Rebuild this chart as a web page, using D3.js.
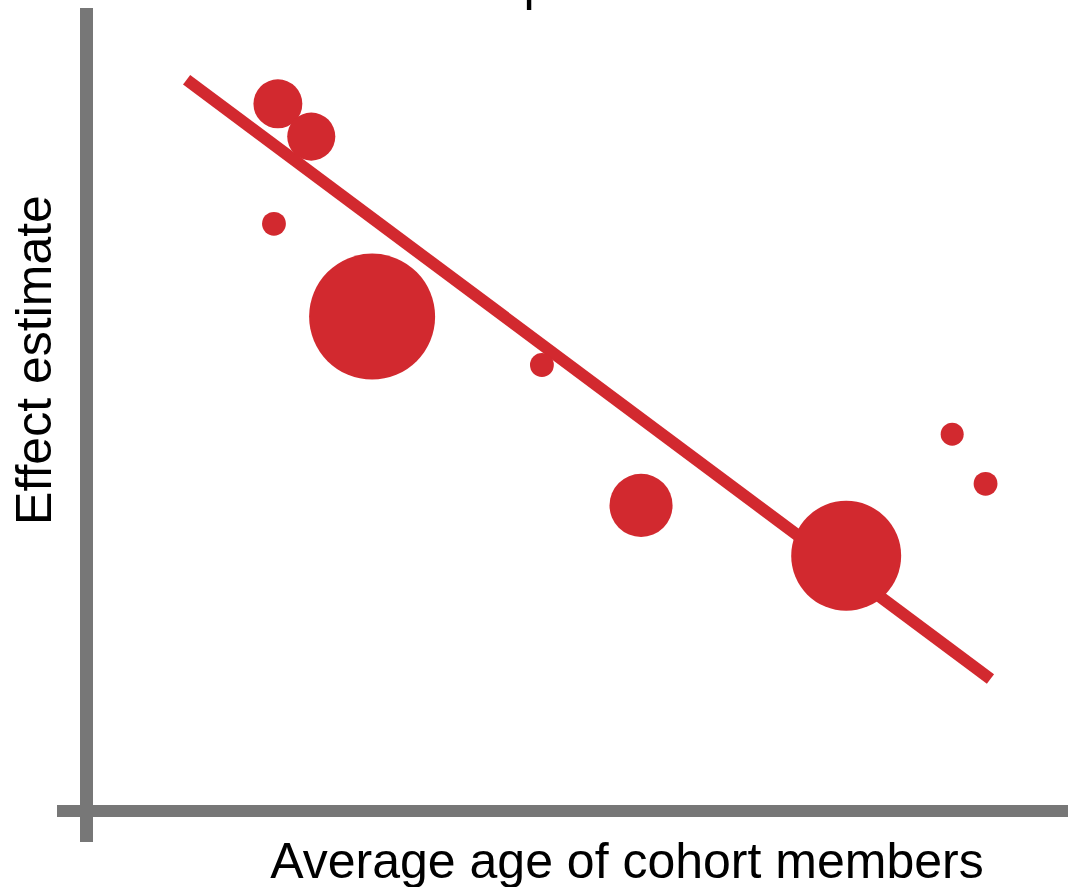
<!DOCTYPE html>
<html>
<head>
<meta charset="utf-8">
<script src="https://cdn.jsdelivr.net/npm/d3@7"></script>
<style>
  html, body { margin: 0; padding: 0; background: #fff; }
  svg { display: block; }
  text { font-family: "Liberation Sans", Arial, sans-serif; fill: #000; }
</style>
</head>
<body>
<svg id="chart" width="1068" height="887"></svg>
<script>
// ---- data ----
const title = "Slope 1";
const xLabel = "Average age of cohort members";
const yLabel = "Effect estimate";
const studyAge = [19.5, 22.9, 19.1, 29.1, 46.4, 56.5, 77.4, 88.2, 91.6];
const studyEffect = [88.4, 84.3, 73.4, 61.8, 55.75, 38.2, 31.9, 47.1, 40.9];
const studyWeight = [12.2, 11.8, 2.9, 81, 2.9, 20.3, 61.7, 2.7, 2.9];
const fitAge = [10.2, 92.1];
const fitEffect = [91.4, 16.5];

// ---- drawing ----
const svg = d3.select("#chart");
const red = "#d2292f";
const gray = "#777777";

const x = d3.scaleLinear().domain([0, 100]).range([86.5, 1068]);
const y = d3.scaleLinear().domain([0, 100]).range([811, 11]);
const r = d3.scaleSqrt().domain([0, 100]).range([0, 70]);

// axes (plain thick lines, no ticks)
svg.append("line")
  .attr("x1", x(0)).attr("x2", x(0))
  .attr("y1", 8).attr("y2", 842)
  .attr("stroke", gray).attr("stroke-width", 13);
svg.append("line")
  .attr("x1", 57).attr("x2", 1068)
  .attr("y1", y(0)).attr("y2", y(0))
  .attr("stroke", gray).attr("stroke-width", 12);

// regression line
const fit = fitAge.map((a, i) => [a, fitEffect[i]]);
svg.append("path")
  .datum(fit)
  .attr("d", d3.line().x(d => x(d[0])).y(d => y(d[1])))
  .attr("fill", "none")
  .attr("stroke", red)
  .attr("stroke-width", 12)
  .attr("stroke-linecap", "butt");

// bubbles
const pts = studyAge.map((a, i) => ({ a, e: studyEffect[i], w: studyWeight[i] }));
svg.append("g").selectAll("circle")
  .data(pts).join("circle")
  .attr("cx", d => x(d.a))
  .attr("cy", d => y(d.e))
  .attr("r", d => r(d.w))
  .attr("fill", red);

// texts
svg.append("text")
  .attr("x", 536).attr("y", 0)
  .attr("text-anchor", "middle")
  .attr("font-size", 50)
  .text(title);

svg.append("text")
  .attr("x", 627).attr("y", 878)
  .attr("text-anchor", "middle")
  .attr("font-size", 50)
  .text(xLabel);

svg.append("text")
  .attr("transform", "translate(51,360) rotate(-90)")
  .attr("text-anchor", "middle")
  .attr("font-size", 50)
  .text(yLabel);
</script>
</body>
</html>
